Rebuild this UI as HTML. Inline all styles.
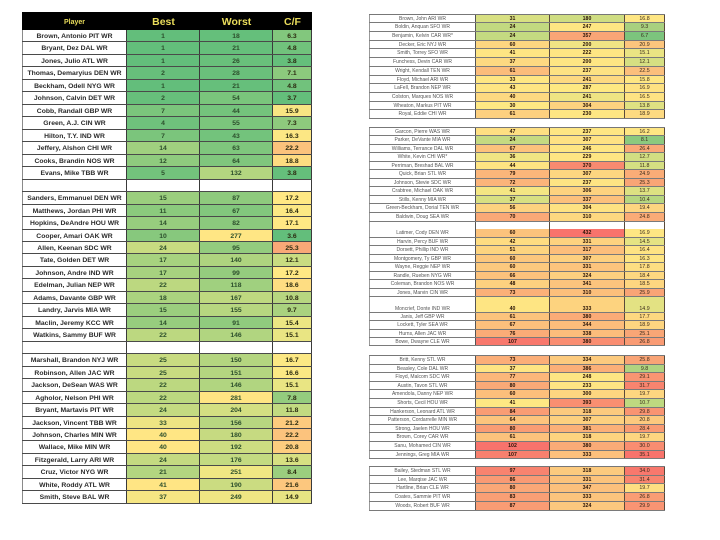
<!DOCTYPE html>
<html><head><meta charset="utf-8">
<style>
html,body{margin:0;padding:0;background:#fff;}
body{width:720px;height:540px;position:relative;overflow:hidden;font-family:"Liberation Sans",sans-serif;}
span{display:block;box-sizing:border-box;text-align:center;height:100%;overflow:hidden;white-space:nowrap;}
.L{position:absolute;left:22px;top:12px;width:290px;}
.L .h{height:18px;background:#000;display:flex;color:#e9dc5b;font-weight:bold;}
.L .h span{line-height:21px;font-size:10.5px;}
.L .h span.p{font-size:7px;line-height:22px;}
.L .r{display:flex;height:12.47px;box-sizing:border-box;border-bottom:1px solid #4a4a4a;}
.L .r span{border-right:1px solid #3a3a3a;font-size:6.8px;font-weight:bold;line-height:14px;color:#2c4f2c;}
.L .r span.p{border-left:1px solid #8a8a8a;color:#2a2a2a;background:#fff;}
.L .r span.c{color:#2b2b10;}
.p{width:105px}.b{width:73px}.w{width:73px}.c{width:39px}
.R{position:absolute;left:369px;width:296px;border-top:1px solid #777;}
.R .r{display:flex;box-sizing:border-box;border-bottom:1px solid #7a7a7a;}
.R .r span{font-size:5px;border-right:1px solid #5a4a3a;}
.R .r span.q{width:107px;border-left:1px solid #999;border-right:1px solid #555;color:#555;background:#fff;}
.R .r span.x,.R .r span.y{font-weight:bold;color:#2a1508;font-size:5.2px;}
.R .r span.z{color:#3b2b1b;font-size:5.3px;}
.x{width:74px}.y{width:75px}.z{width:40px}
.A .r{height:8.72px;line-height:9.6px}
.B .r{height:8.56px;line-height:9.4px}
.C .r{height:8.54px;line-height:9.4px}
.C .r.t{height:15.7px;line-height:25px}
.C .r.s{height:8.33px;line-height:9.2px}
.D .r{height:8.6px;line-height:9.4px}
.E .r{height:8.86px;line-height:9.7px}
</style></head><body>

<div class="L">
<div class="h"><span class="p">Player</span><span class="b">Best</span><span class="w">Worst</span><span class="c">C/F</span></div>
<div class="r"><span class="p">Brown, Antonio PIT WR</span><span class="b" style="background:#63be7b">1</span><span class="w" style="background:#65bf7b">18</span><span class="c" style="background:#82c77d">6.3</span></div>
<div class="r"><span class="p">Bryant, Dez DAL WR</span><span class="b" style="background:#63be7b">1</span><span class="w" style="background:#66bf7b">21</span><span class="c" style="background:#71c27c">4.8</span></div>
<div class="r"><span class="p">Jones, Julio ATL WR</span><span class="b" style="background:#63be7b">1</span><span class="w" style="background:#69c07b">26</span><span class="c" style="background:#65bf7b">3.8</span></div>
<div class="r"><span class="p">Thomas, Demaryius DEN WR</span><span class="b" style="background:#67bf7b">2</span><span class="w" style="background:#6ac07b">28</span><span class="c" style="background:#8cca7d">7.1</span></div>
<div class="r"><span class="p">Beckham, Odell NYG WR</span><span class="b" style="background:#63be7b">1</span><span class="w" style="background:#66bf7b">21</span><span class="c" style="background:#71c27c">4.8</span></div>
<div class="r"><span class="p">Johnson, Calvin DET WR</span><span class="b" style="background:#67bf7b">2</span><span class="w" style="background:#7ac57c">54</span><span class="c" style="background:#64be7b">3.7</span></div>
<div class="r"><span class="p">Cobb, Randall GBP WR</span><span class="b" style="background:#7bc57c">7</span><span class="w" style="background:#74c37c">44</span><span class="c" style="background:#f8e583">15.9</span></div>
<div class="r"><span class="p">Green, A.J. CIN WR</span><span class="b" style="background:#6fc17c">4</span><span class="w" style="background:#7bc57c">55</span><span class="c" style="background:#8eca7d">7.3</span></div>
<div class="r"><span class="p">Hilton, T.Y. IND WR</span><span class="b" style="background:#7bc57c">7</span><span class="w" style="background:#73c37c">43</span><span class="c" style="background:#fce784">16.3</span></div>
<div class="r"><span class="p">Jeffery, Alshon CHI WR</span><span class="b" style="background:#a0d07f">14</span><span class="w" style="background:#7fc67d">63</span><span class="c" style="background:#fbc27c">22.2</span></div>
<div class="r"><span class="p">Cooks, Brandin NOS WR</span><span class="b" style="background:#8fcb7e">12</span><span class="w" style="background:#80c67d">64</span><span class="c" style="background:#fedc81">18.8</span></div>
<div class="r"><span class="p">Evans, Mike TBB WR</span><span class="b" style="background:#73c37c">5</span><span class="w" style="background:#b4d680">132</span><span class="c" style="background:#65bf7b">3.8</span></div>
<div class="r"><span class="p"></span><span class="b" style="background:#fff"></span><span class="w" style="background:#fff"></span><span class="c" style="background:#fff"></span></div>
<div class="r"><span class="p">Sanders, Emmanuel DEN WR</span><span class="b" style="background:#9bce7e">15</span><span class="w" style="background:#8eca7d">87</span><span class="c" style="background:#ffe884">17.2</span></div>
<div class="r"><span class="p">Matthews, Jordan PHI WR</span><span class="b" style="background:#8bca7d">11</span><span class="w" style="background:#82c77d">67</span><span class="c" style="background:#fce884">16.4</span></div>
<div class="r"><span class="p">Hopkins, DeAndre HOU WR</span><span class="b" style="background:#97cd7e">14</span><span class="w" style="background:#8bc97d">82</span><span class="c" style="background:#ffe884">17.1</span></div>
<div class="r"><span class="p">Cooper, Amari OAK WR</span><span class="b" style="background:#87c87d">10</span><span class="w" style="background:#ffe684">277</span><span class="c" style="background:#63be7b">3.6</span></div>
<div class="r"><span class="p">Allen, Keenan SDC WR</span><span class="b" style="background:#c8db81">24</span><span class="w" style="background:#93cc7e">95</span><span class="c" style="background:#f9a877">25.3</span></div>
<div class="r"><span class="p">Tate, Golden DET WR</span><span class="b" style="background:#a7d27f">17</span><span class="w" style="background:#aed47f">140</span><span class="c" style="background:#c9dc81">12.1</span></div>
<div class="r"><span class="p">Johnson, Andre IND WR</span><span class="b" style="background:#a7d27f">17</span><span class="w" style="background:#95cc7e">99</span><span class="c" style="background:#ffe884">17.2</span></div>
<div class="r"><span class="p">Edelman, Julian NEP WR</span><span class="b" style="background:#bcd880">22</span><span class="w" style="background:#a0d07f">118</span><span class="c" style="background:#fedd82">18.6</span></div>
<div class="r"><span class="p">Adams, Davante GBP WR</span><span class="b" style="background:#abd37f">18</span><span class="w" style="background:#bed880">167</span><span class="c" style="background:#b7d680">10.8</span></div>
<div class="r"><span class="p">Landry, Jarvis MIA WR</span><span class="b" style="background:#9bce7e">15</span><span class="w" style="background:#b7d680">155</span><span class="c" style="background:#aad27f">9.7</span></div>
<div class="r"><span class="p">Maclin, Jeremy KCC WR</span><span class="b" style="background:#97cd7e">14</span><span class="w" style="background:#90cb7e">91</span><span class="c" style="background:#ece683">15.4</span></div>
<div class="r"><span class="p">Watkins, Sammy BUF WR</span><span class="b" style="background:#bcd880">22</span><span class="w" style="background:#b1d580">146</span><span class="c" style="background:#e9e583">15.1</span></div>
<div class="r"><span class="p"></span><span class="b" style="background:#fff"></span><span class="w" style="background:#fff"></span><span class="c" style="background:#fff"></span></div>
<div class="r"><span class="p">Marshall, Brandon NYJ WR</span><span class="b" style="background:#c8db81">25</span><span class="w" style="background:#b4d580">150</span><span class="c" style="background:#fce884">16.7</span></div>
<div class="r"><span class="p">Robinson, Allen JAC WR</span><span class="b" style="background:#c8db81">25</span><span class="w" style="background:#b4d580">151</span><span class="c" style="background:#fbe884">16.6</span></div>
<div class="r"><span class="p">Jackson, DeSean WAS WR</span><span class="b" style="background:#bcd880">22</span><span class="w" style="background:#b1d580">146</span><span class="c" style="background:#e9e583">15.1</span></div>
<div class="r"><span class="p">Agholor, Nelson PHI WR</span><span class="b" style="background:#bcd880">22</span><span class="w" style="background:#ffe483">281</span><span class="c" style="background:#94cc7e">7.8</span></div>
<div class="r"><span class="p">Bryant, Martavis PIT WR</span><span class="b" style="background:#c4da81">24</span><span class="w" style="background:#d4df82">204</span><span class="c" style="background:#c2da81">11.8</span></div>
<div class="r"><span class="p">Jackson, Vincent TBB WR</span><span class="b" style="background:#ede483">33</span><span class="w" style="background:#b7d680">156</span><span class="c" style="background:#fdcb7e">21.2</span></div>
<div class="r"><span class="p">Johnson, Charles MIN WR</span><span class="b" style="background:#ffe684">40</span><span class="w" style="background:#c6da81">180</span><span class="c" style="background:#fcc37d">22.2</span></div>
<div class="r"><span class="p">Wallace, Mike MIN WR</span><span class="b" style="background:#ffe684">40</span><span class="w" style="background:#cddd81">192</span><span class="c" style="background:#fdcd7f">20.8</span></div>
<div class="r"><span class="p">Fitzgerald, Larry ARI WR</span><span class="b" style="background:#c4da81">24</span><span class="w" style="background:#c3da81">176</span><span class="c" style="background:#d7e082">13.6</span></div>
<div class="r"><span class="p">Cruz, Victor NYG WR</span><span class="b" style="background:#b3d580">21</span><span class="w" style="background:#f0e783">251</span><span class="c" style="background:#9bce7e">8.4</span></div>
<div class="r"><span class="p">White, Roddy ATL WR</span><span class="b" style="background:#ffe584">41</span><span class="w" style="background:#cbdc81">190</span><span class="c" style="background:#fcc77e">21.6</span></div>
<div class="r"><span class="p">Smith, Steve BAL WR</span><span class="b" style="background:#f6e683">37</span><span class="w" style="background:#efe683">249</span><span class="c" style="background:#e7e483">14.9</span></div>
</div>

<div class="R A" style="top:13.5px">
<div class="r"><span class="q">Brown, John ARI WR</span><span class="x" style="background:#d8e082">31</span><span class="y" style="background:#cfdd82">180</span><span class="z" style="background:#fee683">16.8</span></div>
<div class="r"><span class="q">Boldin, Anquan SFO WR</span><span class="x" style="background:#c2d980">24</span><span class="y" style="background:#fee683">247</span><span class="z" style="background:#a8d07f">9.3</span></div>
<div class="r"><span class="q">Benjamin, Kelvin CAR WR*</span><span class="x" style="background:#c4da81">24</span><span class="y" style="background:#f9a576">357</span><span class="z" style="background:#7cc47d">6.7</span></div>
<div class="r"><span class="q">Decker, Eric NYJ WR</span><span class="x" style="background:#fdd680">60</span><span class="y" style="background:#f0e484">200</span><span class="z" style="background:#fcc57d">20.9</span></div>
<div class="r"><span class="q">Smith, Torrey SFO WR</span><span class="x" style="background:#fee583">41</span><span class="y" style="background:#fee683">222</span><span class="z" style="background:#eae483">15.1</span></div>
<div class="r"><span class="q">Funchess, Devin CAR WR</span><span class="x" style="background:#fdd981">37</span><span class="y" style="background:#fee683">200</span><span class="z" style="background:#d6df82">12.1</span></div>
<div class="r"><span class="q">Wright, Kendall TEN WR</span><span class="x" style="background:#fbbc7b">61</span><span class="y" style="background:#fde283">237</span><span class="z" style="background:#fbbf7c">22.5</span></div>
<div class="r"><span class="q">Floyd, Michael ARI WR</span><span class="x" style="background:#fee683">33</span><span class="y" style="background:#fdd981">241</span><span class="z" style="background:#fee683">15.8</span></div>
<div class="r"><span class="q">LaFell, Brandon NEP WR</span><span class="x" style="background:#fee583">43</span><span class="y" style="background:#fee882">287</span><span class="z" style="background:#fee282">16.9</span></div>
<div class="r"><span class="q">Colston, Marques NOS WR</span><span class="x" style="background:#fdd981">40</span><span class="y" style="background:#eee483">241</span><span class="z" style="background:#fee383">16.5</span></div>
<div class="r"><span class="q">Wheaton, Markus PIT WR</span><span class="x" style="background:#fee883">30</span><span class="y" style="background:#fdd27f">304</span><span class="z" style="background:#dfe182">13.8</span></div>
<div class="r"><span class="q">Royal, Eddie CHI WR</span><span class="x" style="background:#fdd07f">61</span><span class="y" style="background:#fee683">230</span><span class="z" style="background:#fdda81">18.9</span></div>
</div>

<div class="R B" style="top:126.5px">
<div class="r"><span class="q">Garcon, Pierre WAS WR</span><span class="x" style="background:#fedf82">47</span><span class="y" style="background:#fee683">237</span><span class="z" style="background:#fee683">16.2</span></div>
<div class="r"><span class="q">Parker, DeVante MIA WR</span><span class="x" style="background:#c5da81">24</span><span class="y" style="background:#fee283">307</span><span class="z" style="background:#8cc97e">8.1</span></div>
<div class="r"><span class="q">Williams, Terrance DAL WR</span><span class="x" style="background:#fcc27c">67</span><span class="y" style="background:#fee683">246</span><span class="z" style="background:#faa877">26.4</span></div>
<div class="r"><span class="q">White, Kevin CHI WR*</span><span class="x" style="background:#f0e583">36</span><span class="y" style="background:#fee683">229</span><span class="z" style="background:#d2de82">12.7</span></div>
<div class="r"><span class="q">Perriman, Breshad BAL WR</span><span class="x" style="background:#fee482">44</span><span class="y" style="background:#f88a70">370</span><span class="z" style="background:#d5df82">11.8</span></div>
<div class="r"><span class="q">Quick, Brian STL WR</span><span class="x" style="background:#fbb67a">79</span><span class="y" style="background:#fdd680">307</span><span class="z" style="background:#faac77">24.9</span></div>
<div class="r"><span class="q">Johnson, Stevie SDC WR</span><span class="x" style="background:#fbb47a">72</span><span class="y" style="background:#fee483">237</span><span class="z" style="background:#f9a576">25.3</span></div>
<div class="r"><span class="q">Crabtree, Michael OAK WR</span><span class="x" style="background:#f4e683">41</span><span class="y" style="background:#fdd27f">306</span><span class="z" style="background:#dde182">13.7</span></div>
<div class="r"><span class="q">Stills, Kenny MIA WR</span><span class="x" style="background:#d8e082">37</span><span class="y" style="background:#fcc07c">337</span><span class="z" style="background:#b6d680">10.4</span></div>
<div class="r"><span class="q">Green-Beckham, Dorial TEN WR</span><span class="x" style="background:#fdd27f">56</span><span class="y" style="background:#fee282">304</span><span class="z" style="background:#fdd580">19.4</span></div>
<div class="r"><span class="q">Baldwin, Doug SEA WR</span><span class="x" style="background:#faa977">70</span><span class="y" style="background:#fdd880">310</span><span class="z" style="background:#faab77">24.8</span></div>
<div class="r"><span class="q"></span><span class="x" style="background:#fff"></span><span class="y" style="background:#fff"></span><span class="z" style="background:#fff"></span></div>
</div>

<div class="R C" style="top:229px;border-top:none">
<div class="r"><span class="q">Latimer, Cody DEN WR</span><span class="x" style="background:#fcc37c">60</span><span class="y" style="background:#f8736c">432</span><span class="z" style="background:#fee683">16.9</span></div>
<div class="r"><span class="q">Harvin, Percy BUF WR</span><span class="x" style="background:#fedc81">42</span><span class="y" style="background:#fdd27f">331</span><span class="z" style="background:#e5e383">14.5</span></div>
<div class="r"><span class="q">Dorsett, Phillip IND WR</span><span class="x" style="background:#fdd47f">51</span><span class="y" style="background:#fcbe7b">317</span><span class="z" style="background:#fee383">16.4</span></div>
<div class="r"><span class="q">Montgomery, Ty GBP WR</span><span class="x" style="background:#fcc77d">60</span><span class="y" style="background:#fdd07f">307</span><span class="z" style="background:#fee583">16.3</span></div>
<div class="r"><span class="q">Wayne, Reggie NEP WR</span><span class="x" style="background:#fcc97e">60</span><span class="y" style="background:#fcc47d">331</span><span class="z" style="background:#fdde82">17.8</span></div>
<div class="r"><span class="q">Randle, Rueben NYG WR</span><span class="x" style="background:#fcc27c">66</span><span class="y" style="background:#fdd07f">324</span><span class="z" style="background:#fdd880">18.4</span></div>
<div class="r"><span class="q">Coleman, Brandon NOS WR</span><span class="x" style="background:#fdd17f">48</span><span class="y" style="background:#fcc47d">341</span><span class="z" style="background:#fdd680">18.5</span></div>
<div class="r"><span class="q">Jones, Marvin CIN WR</span><span class="x" style="background:#fbb078">73</span><span class="y" style="background:#fcbf7b">310</span><span class="z" style="background:#f9a476">25.9</span></div>
<div class="r t"><span class="q">Moncrief, Donte IND WR</span><span class="x" style="background:#fee583">40</span><span class="y" style="background:#fdd37f">333</span><span class="z" style="background:#e3e283">14.9</span></div>
<div class="r s"><span class="q">Janis, Jeff GBP WR</span><span class="x" style="background:#fcc37c">61</span><span class="y" style="background:#fbab77">380</span><span class="z" style="background:#fdd880">17.7</span></div>
<div class="r s"><span class="q">Lockett, Tyler SEA WR</span><span class="x" style="background:#fcc07c">67</span><span class="y" style="background:#fcbd7b">344</span><span class="z" style="background:#fdd580">18.9</span></div>
<div class="r s"><span class="q">Hurns, Allen JAC WR</span><span class="x" style="background:#faac77">76</span><span class="y" style="background:#fcbd7b">338</span><span class="z" style="background:#f9a676">25.1</span></div>
<div class="r s"><span class="q">Bowe, Dwayne CLE WR</span><span class="x" style="background:#f8786d">107</span><span class="y" style="background:#f98d71">380</span><span class="z" style="background:#f99b74">26.8</span></div>
</div>

<div class="R D" style="top:355px">
<div class="r"><span class="q">Britt, Kenny STL WR</span><span class="x" style="background:#fbae78">73</span><span class="y" style="background:#fcca7e">334</span><span class="z" style="background:#f9a476">25.8</span></div>
<div class="r"><span class="q">Beasley, Cole DAL WR</span><span class="x" style="background:#fee583">37</span><span class="y" style="background:#fbaf78">386</span><span class="z" style="background:#b0d480">9.8</span></div>
<div class="r"><span class="q">Floyd, Malcom SDC WR</span><span class="x" style="background:#fbb77a">77</span><span class="y" style="background:#fee683">248</span><span class="z" style="background:#f99572">29.1</span></div>
<div class="r"><span class="q">Austin, Tavon STL WR</span><span class="x" style="background:#faa977">80</span><span class="y" style="background:#fee583">233</span><span class="z" style="background:#f8846f">31.7</span></div>
<div class="r"><span class="q">Amendola, Danny NEP WR</span><span class="x" style="background:#fcbf7b">60</span><span class="y" style="background:#fdd680">300</span><span class="z" style="background:#fdd680">19.7</span></div>
<div class="r"><span class="q">Shorts, Cecil HOU WR</span><span class="x" style="background:#fee883">41</span><span class="y" style="background:#f98f71">393</span><span class="z" style="background:#bed980">10.7</span></div>
<div class="r"><span class="q">Hankerson, Leonard ATL WR</span><span class="x" style="background:#f99c74">84</span><span class="y" style="background:#fcca7e">318</span><span class="z" style="background:#f99472">29.8</span></div>
<div class="r"><span class="q">Patterson, Cordarrelle MIN WR</span><span class="x" style="background:#fcc47d">64</span><span class="y" style="background:#fdd07f">307</span><span class="z" style="background:#fcc97e">20.8</span></div>
<div class="r"><span class="q">Strong, Jaelen HOU WR</span><span class="x" style="background:#f99c74">80</span><span class="y" style="background:#fbb078">381</span><span class="z" style="background:#f99b73">28.4</span></div>
<div class="r"><span class="q">Brown, Corey CAR WR</span><span class="x" style="background:#fcc27c">61</span><span class="y" style="background:#fdd47f">318</span><span class="z" style="background:#fdd680">19.7</span></div>
<div class="r"><span class="q">Sanu, Mohamed CIN WR</span><span class="x" style="background:#f8736c">102</span><span class="y" style="background:#faab77">380</span><span class="z" style="background:#f98d71">30.0</span></div>
<div class="r"><span class="q">Jennings, Greg MIA WR</span><span class="x" style="background:#f8806e">107</span><span class="y" style="background:#fcc07c">333</span><span class="z" style="background:#f8736c">35.1</span></div>
</div>

<div class="R E" style="top:465.7px">
<div class="r"><span class="q">Bailey, Stedman STL WR</span><span class="x" style="background:#f8836f">97</span><span class="y" style="background:#fcca7e">318</span><span class="z" style="background:#f8786d">34.0</span></div>
<div class="r"><span class="q">Lee, Marqise JAC WR</span><span class="x" style="background:#f99a74">86</span><span class="y" style="background:#fcc37c">331</span><span class="z" style="background:#f8846f">31.4</span></div>
<div class="r"><span class="q">Hartline, Brian CLE WR</span><span class="x" style="background:#faa777">80</span><span class="y" style="background:#fcc07c">347</span><span class="z" style="background:#fedf82">19.7</span></div>
<div class="r"><span class="q">Coates, Sammie PIT WR</span><span class="x" style="background:#f99f75">83</span><span class="y" style="background:#fcc47d">333</span><span class="z" style="background:#f99d74">26.8</span></div>
<div class="r"><span class="q">Woods, Robert BUF WR</span><span class="x" style="background:#f99c74">87</span><span class="y" style="background:#fcc87e">324</span><span class="z" style="background:#f99473">29.9</span></div>
</div>

</body></html>
